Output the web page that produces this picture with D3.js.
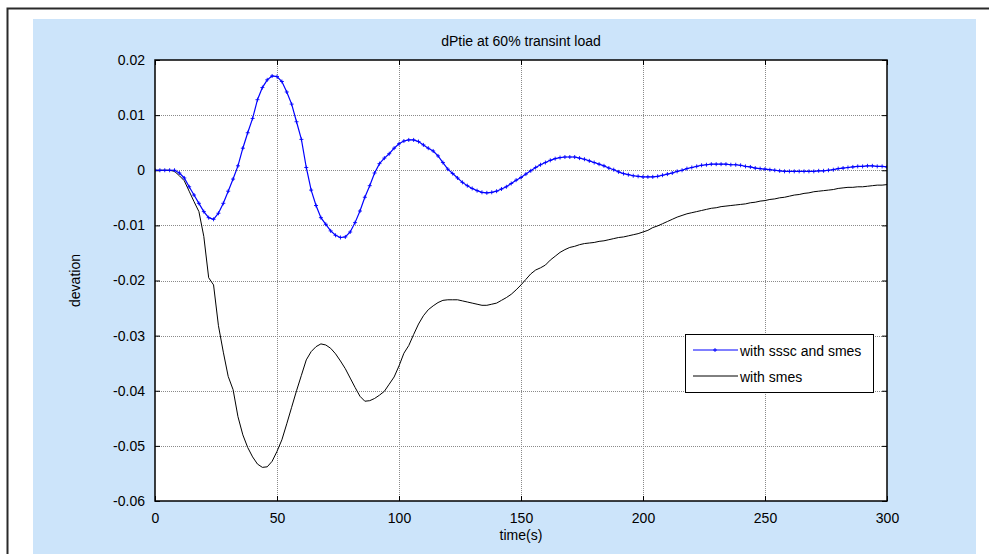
<!DOCTYPE html>
<html>
<head>
<meta charset="utf-8">
<script src="https://cdn.jsdelivr.net/npm/d3@7"></script>
<style>
  html, body { margin: 0; padding: 0; background: #ffffff; }
  svg { display: block; font-family: "Liberation Sans", Arial, Helvetica, sans-serif; }
</style>
</head>
<body>
<svg id="chart" width="989" height="554"></svg>
<script>
// Sample times (s), one sample every 2 s
const time = d3.range(0, 301, 2);

// Tie-line power deviation with SSSC and SMES
const withSsscSmes = [
  0, 0, 0, 0, 0, -0.0005, -0.0014, -0.0030, -0.0045, -0.0060,
  -0.0075, -0.0086, -0.0089, -0.0078, -0.0060, -0.0038, -0.0016, 0.0008, 0.0040, 0.0068,
  0.0094, 0.0128, 0.0150, 0.0164, 0.0171, 0.0170, 0.0161, 0.0142, 0.0120, 0.0088,
  0.0056, 0.0005, -0.0036, -0.0064, -0.0086, -0.0098, -0.0110, -0.0118, -0.0122, -0.0121,
  -0.0112, -0.0095, -0.0074, -0.0049, -0.0028, -0.0005, 0.0012, 0.0022, 0.0030, 0.0040,
  0.0048, 0.0053, 0.0055, 0.0055, 0.0052, 0.0046, 0.0040, 0.0035, 0.0026, 0.0014,
  0.0002, -0.0006, -0.0014, -0.0022, -0.0028, -0.0033, -0.0037, -0.0040, -0.0041, -0.0040,
  -0.0038, -0.0034, -0.0030, -0.0024, -0.0018, -0.0013, -0.0007, -0.0001, 0.0005, 0.0010,
  0.0014, 0.0018, 0.0021, 0.0023, 0.0024, 0.0024, 0.0024, 0.0022, 0.0020, 0.0017,
  0.0014, 0.0011, 0.0008, 0.0004, 0.0001, -0.0003, -0.0006, -0.0008, -0.0010, -0.0011,
  -0.0012, -0.0012, -0.0012, -0.0011, -0.0009, -0.0007, -0.0005, -0.0002, 0.0000, 0.0003,
  0.0005, 0.0007, 0.0009, 0.0010, 0.0011, 0.0011, 0.0011, 0.0011, 0.0010, 0.0010,
  0.0009, 0.0007, 0.0006, 0.0004, 0.0003, 0.0002, 0.0001, 0.0000, -0.0001, -0.0002,
  -0.0002, -0.0002, -0.0002, -0.0002, -0.0002, -0.0002, -0.0001, -0.0001, 0.0000, 0.0001,
  0.0003, 0.0004, 0.0005, 0.0006, 0.0007, 0.0007, 0.0008, 0.0008, 0.0007, 0.0007,
  0.0006
];

// Tie-line power deviation with SMES only
const withSmes = [
  0, 0, 0, 0, -0.0002, -0.0010, -0.0019, -0.0038, -0.0057, -0.0075,
  -0.0120, -0.0195, -0.0208, -0.0282, -0.0330, -0.0374, -0.0398, -0.0447, -0.0480, -0.0503,
  -0.0520, -0.0533, -0.0539, -0.0538, -0.0528, -0.0510, -0.0489, -0.0460, -0.0430, -0.0400,
  -0.0372, -0.0344, -0.0329, -0.0320, -0.0315, -0.0317, -0.0323, -0.0333, -0.0346, -0.0360,
  -0.0377, -0.0394, -0.0410, -0.0419, -0.0418, -0.0414, -0.0408, -0.0401, -0.0388, -0.0375,
  -0.0355, -0.0332, -0.0318, -0.0298, -0.0279, -0.0264, -0.0253, -0.0246, -0.0240, -0.0236,
  -0.0235, -0.0235, -0.0235, -0.0237, -0.0239, -0.0241, -0.0243, -0.0245, -0.0245, -0.0243,
  -0.0241, -0.0236, -0.0231, -0.0225, -0.0217, -0.0208, -0.0198, -0.0188, -0.0181, -0.0177,
  -0.0172, -0.0163, -0.0156, -0.0149, -0.0144, -0.0140, -0.0138, -0.0135, -0.0133, -0.0132,
  -0.0131, -0.0129, -0.0128, -0.0126, -0.0124, -0.0122, -0.0121, -0.0119, -0.0117, -0.0115,
  -0.0112, -0.0109, -0.0104, -0.0101, -0.0097, -0.0093, -0.0089, -0.0085, -0.0082, -0.0079,
  -0.0077, -0.0075, -0.0073, -0.0071, -0.0069, -0.0068, -0.0066, -0.0065, -0.0064, -0.0063,
  -0.0062, -0.0061, -0.0059, -0.0058, -0.0056, -0.0055, -0.0053, -0.0052, -0.0050, -0.0049,
  -0.0047, -0.0045, -0.0044, -0.0042, -0.0041, -0.0039, -0.0038, -0.0037, -0.0036, -0.0035,
  -0.0033, -0.0032, -0.0031, -0.0031, -0.0030, -0.0030, -0.0029, -0.0028, -0.0027, -0.0027,
  -0.0026
];

// Axis ticks
const xTicks = [0, 50, 100, 150, 200, 250, 300];
const yTicks = [0.02, 0.01, 0, -0.01, -0.02, -0.03, -0.04, -0.05, -0.06];
const yTickLabels = ["0.02", "0.01", "0", "-0.01", "-0.02", "-0.03", "-0.04", "-0.05", "-0.06"];

const seriesNames = ["with sssc and smes", "with smes"];
const seriesColors = ["#0000ff", "#000000"];

const svg = d3.select("#chart");
const W = 989, H = 554;

// Figure frame and light blue figure background
svg.append("rect").attr("x", 0).attr("y", 0).attr("width", W).attr("height", H).attr("fill", "#ffffff");
svg.append("rect").attr("x", 7.5).attr("y", 8.5).attr("width", 990).attr("height", 560)
  .attr("fill", "none").attr("stroke", "#2a2a2a").attr("stroke-width", 2);
svg.append("rect").attr("x", 33).attr("y", 19).attr("width", 943).attr("height", 540)
  .attr("fill", "#cce4fa");

const plot = { left: 155, top: 60, right: 887, bottom: 501 };

const x = d3.scaleLinear().domain([0, 300]).range([plot.left, plot.right]);
const y = d3.scaleLinear().domain([-0.06, 0.02]).range([plot.bottom, plot.top]);

// Axes area
svg.append("rect").attr("x", plot.left).attr("y", plot.top)
  .attr("width", plot.right - plot.left).attr("height", plot.bottom - plot.top)
  .attr("fill", "#ffffff");

// Dotted grid
const grid = svg.append("g").attr("stroke", "#8a8a8a").attr("stroke-width", 1)
  .attr("stroke-dasharray", "1,1");
grid.selectAll("line.gx").data(xTicks.slice(1, -1)).enter().append("line")
  .attr("x1", d => Math.round(x(d)) + 0.5).attr("x2", d => Math.round(x(d)) + 0.5)
  .attr("y1", plot.top).attr("y2", plot.bottom);
grid.selectAll("line.gy").data(yTicks.slice(1, -1)).enter().append("line")
  .attr("y1", d => Math.round(y(d)) + 0.5).attr("y2", d => Math.round(y(d)) + 0.5)
  .attr("x1", plot.left).attr("x2", plot.right);

// Axes with inward ticks on all four sides
const tickLen = 5;
const fmtY = (d, i) => yTickLabels[i];
const axBottom = svg.append("g").attr("transform", `translate(0,${plot.bottom})`)
  .call(d3.axisBottom(x).tickValues(xTicks).tickSizeInner(-tickLen).tickSizeOuter(0).tickPadding(12));
const axTop = svg.append("g").attr("transform", `translate(0,${plot.top})`)
  .call(d3.axisTop(x).tickValues(xTicks).tickSizeInner(-tickLen).tickSizeOuter(0).tickFormat(""));
const axLeft = svg.append("g").attr("transform", `translate(${plot.left},0)`)
  .call(d3.axisLeft(y).tickValues(yTicks).tickSizeInner(-tickLen).tickSizeOuter(0).tickPadding(10).tickFormat(fmtY));
const axRight = svg.append("g").attr("transform", `translate(${plot.right},0)`)
  .call(d3.axisRight(y).tickValues(yTicks).tickSizeInner(-tickLen).tickSizeOuter(0).tickFormat(""));

[axBottom, axTop, axLeft, axRight].forEach(g => {
  g.select(".domain").remove();
  g.selectAll(".tick line").attr("stroke", "#000").attr("stroke-width", 1);
  g.selectAll("text").attr("font-size", 14).attr("fill", "#000")
    .attr("font-family", "'Liberation Sans', Arial, sans-serif");
});

// Clip curves to the axes area
svg.append("clipPath").attr("id", "plotClip").append("rect")
  .attr("x", plot.left).attr("y", plot.top)
  .attr("width", plot.right - plot.left).attr("height", plot.bottom - plot.top);

const line = d3.line().x(d => x(d[0])).y(d => y(d[1]));
const curves = svg.append("g").attr("clip-path", "url(#plotClip)");

const blackPts = time.map((t, i) => [t, withSmes[i]]);
const bluePts = time.map((t, i) => [t, withSsscSmes[i]]);

curves.append("path").datum(blackPts).attr("d", line)
  .attr("fill", "none").attr("stroke", seriesColors[1]).attr("stroke-width", 1);
curves.append("path").datum(bluePts).attr("d", line)
  .attr("fill", "none").attr("stroke", seriesColors[0]).attr("stroke-width", 1.2);

// Point markers on the SSSC+SMES curve
const m = 2;
curves.append("g").attr("stroke", seriesColors[0]).attr("stroke-width", 0.9)
  .selectAll("path").data(bluePts).enter().append("path")
  .attr("d", d => {
    const px = x(d[0]), py = y(d[1]);
    return `M${px - m},${py}H${px + m}M${px},${py - m}V${py + m}`;
  });

// Axes box
svg.append("rect").attr("x", plot.left).attr("y", plot.top)
  .attr("width", plot.right - plot.left).attr("height", plot.bottom - plot.top)
  .attr("fill", "none").attr("stroke", "#000").attr("stroke-width", 1.5);

// Title and axis labels
svg.append("text").attr("x", (plot.left + plot.right) / 2).attr("y", 46)
  .attr("text-anchor", "middle").attr("font-size", 14).text("dPtie at 60% transint load");
svg.append("text").attr("x", (plot.left + plot.right) / 2).attr("y", 540)
  .attr("text-anchor", "middle").attr("font-size", 14).text("time(s)");
svg.append("text").attr("transform", `translate(80,${(plot.top + plot.bottom) / 2}) rotate(-90)`)
  .attr("text-anchor", "middle").attr("font-size", 14).text("devation");

// Legend
const lg = { x: 685, y: 334, w: 188, h: 58 };
svg.append("rect").attr("x", lg.x + 0.5).attr("y", lg.y + 0.5).attr("width", lg.w).attr("height", lg.h)
  .attr("fill", "#ffffff").attr("stroke", "#000").attr("stroke-width", 1);
seriesNames.forEach((name, i) => {
  const ly = lg.y + 16 + i * 26;
  svg.append("line").attr("x1", lg.x + 8).attr("x2", lg.x + 53).attr("y1", ly).attr("y2", ly)
    .attr("stroke", seriesColors[i]).attr("stroke-width", 1);
  if (i === 0) {
    const cx = lg.x + 30;
    svg.append("path").attr("d", `M${cx - m},${ly}H${cx + m}M${cx},${ly - m}V${ly + m}`)
      .attr("stroke", seriesColors[i]).attr("stroke-width", 0.9);
  }
  svg.append("text").attr("x", lg.x + 55).attr("y", ly + 6).attr("font-size", 14).text(name);
});
</script>
</body>
</html>
